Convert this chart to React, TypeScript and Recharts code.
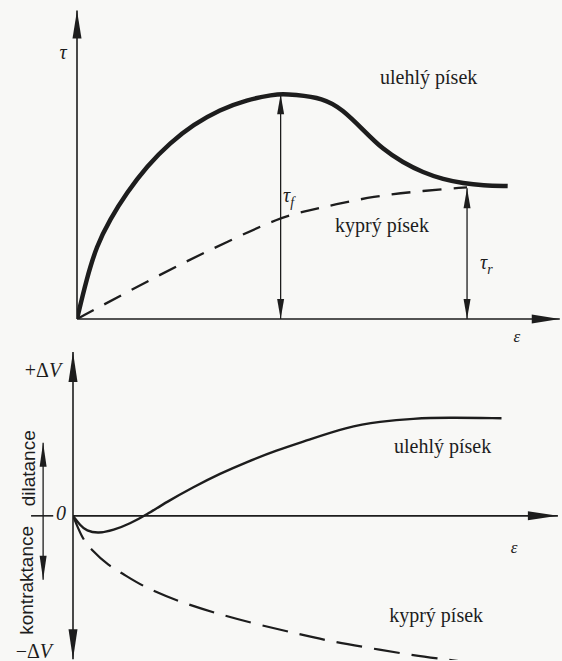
import React from 'react';
import { LineChart, Line, XAxis, YAxis, ReferenceLine, ReferenceDot } from 'recharts';

const INK = '#1d1d1d';
const SERIF = "'Liberation Serif', 'Times New Roman', serif";
const SANS = "'Liberation Sans', Arial, sans-serif";

// ---- top chart: shear stress tau vs strain eps ----
const topDenseEps = [0, 2.0, 4.1, 6.9, 10.4, 14.6, 19.5, 24.3, 29.9, 35.5, 41.1, 43.1, 45.2, 51.5, 55.6, 59.8, 64.0, 68.2, 72.4, 76.6, 80.8, 84.9, 90.1];
const topDenseTau = [0, 13.0, 23.8, 32.5, 41.1, 49.8, 57.4, 63.3, 68.2, 71.4, 73.1, 73.3, 73.1, 72.0, 68.2, 61.7, 55.2, 51.0, 47.7, 45.5, 44.2, 43.5, 43.3];
const topLooseEps = [0, 10.4, 20.9, 31.6, 42.5, 48.1, 54.0, 61.9, 71.1, 81.6];
const topLooseTau = [0, 8.7, 17.3, 25.3, 33.1, 35.2, 37.3, 39.9, 41.6, 42.9];
const tauPeakEps = 42.6;
const tauPeak = 73.2;
const tauResEps = 81.6;
const tauRes = 42.6;

// ---- bottom chart: volume change dV vs strain eps ----
const botDenseEps = [0, 1.5, 2.8, 5.2, 8.4, 11.8, 15.3, 19.4, 25.0, 30.5, 36.0, 42.2, 48.5, 56.8, 63.7, 70.6, 77.5, 88.9];
const botDenseDV = [0, -2.9, -4.6, -5.4, -4.4, -2.4, 0.4, 4.2, 8.8, 12.9, 16.4, 20.0, 23.0, 27.1, 28.8, 29.7, 30.0, 29.8];
const botLooseEps = [0, 1.8, 3.5, 7.7, 9.8, 14.6, 22.2, 29.8, 38.1, 46.4, 54.0, 62.3, 70.6, 78.9, 86.5];
const botLooseDV = [0, -6.5, -10.0, -15.6, -17.1, -21.7, -26.3, -29.8, -33.1, -35.9, -38.5, -40.5, -42.6, -44.1, -45.6];

const labelDense = 'ulehlý písek';
const labelLoose = 'kyprý písek';
const labelDil = 'dilatance';
const labelCon = 'kontraktance';

const zip = (xs: number[], ys: number[]) => xs.map((x, i) => ({ x, y: ys[i] }));
const topDense = zip(topDenseEps, topDenseTau);
const topLoose = zip(topLooseEps, topLooseTau);
const botDense = zip(botDenseEps, botDenseDV);
const botLoose = zip(botLooseEps, botLooseDV);

function headPts(tx: number, ty: number, fx: number, fy: number, len: number, half: number) {
  const dx = tx - fx;
  const dy = ty - fy;
  const d = Math.hypot(dx, dy) || 1;
  const ux = dx / d;
  const uy = dy / d;
  const bx = tx - ux * len;
  const by = ty - uy * len;
  const px = -uy * half;
  const py = ux * half;
  return `${tx},${ty} ${bx + px},${by + py} ${bx - px},${by - py}`;
}

const arrow = (opts: { start?: boolean; end?: boolean; len?: number; half?: number; w?: number }) => (p: any) => {
  const { x1, y1, x2, y2 } = p;
  const len = opts.len ?? 24;
  const half = opts.half ?? 4;
  return (
    <g>
      <line x1={x1} y1={y1} x2={x2} y2={y2} stroke={INK} strokeWidth={opts.w ?? 1.6} />
      {opts.end && <polygon points={headPts(x2, y2, x1, y1, len, half)} fill={INK} />}
      {opts.start && <polygon points={headPts(x1, y1, x2, y2, len, half)} fill={INK} />}
    </g>
  );
};

type TxtOpts = { family?: string; size?: number; italic?: boolean; anchor?: string; angle?: number };
const txt = (content: React.ReactNode, o: TxtOpts = {}) => (p: any) => (
  <text
    x={p.cx}
    y={p.cy}
    fill={INK}
    textAnchor={o.anchor ?? 'start'}
    fontFamily={o.family ?? SERIF}
    style={{ fontFamily: o.family ?? SERIF, fontSize: o.size ?? 20, fontStyle: o.italic ? 'italic' : 'normal' }}
    transform={o.angle ? `rotate(${o.angle} ${p.cx} ${p.cy})` : undefined}
  >
    {content}
  </text>
);

export default function App() {
  return (
    <div style={{ position: 'absolute', left: 0, top: 0, width: 562, height: 661, background: '#f8f8f6', overflow: 'hidden' }}>
      <div style={{ position: 'absolute', left: 0, top: 0 }}>
        <LineChart width={562} height={360} margin={{ top: 12, right: 7, bottom: 41, left: 77 }}>
          <XAxis type="number" dataKey="x" domain={[0, 100]} hide allowDataOverflow />
          <YAxis type="number" dataKey="y" domain={[0, 100]} hide allowDataOverflow />
          <ReferenceLine ifOverflow="visible" segment={[{ x: 0, y: 0 }, { x: 0, y: 100.5 }]} shape={arrow({ end: true, len: 28, half: 4.5 })} />
          <ReferenceLine ifOverflow="visible" segment={[{ x: 0, y: 0 }, { x: 101, y: 0 }]} shape={arrow({ end: true, len: 28, half: 4.5 })} />
          <ReferenceLine ifOverflow="visible" segment={[{ x: tauPeakEps, y: 0 }, { x: tauPeakEps, y: tauPeak }]} shape={arrow({ start: true, end: true, len: 20, half: 3.5, w: 1.3 })} />
          <ReferenceLine ifOverflow="visible" segment={[{ x: tauResEps, y: 0 }, { x: tauResEps, y: tauRes }]} shape={arrow({ start: true, end: true, len: 20, half: 3.5, w: 1.3 })} />
          <Line data={topLoose} dataKey="y" type="basis" stroke={INK} strokeWidth={2.3} strokeDasharray="19 12" dot={false} activeDot={false} isAnimationActive={false} />
          <Line data={topDense} dataKey="y" type="basis" stroke={INK} strokeWidth={4.5} dot={false} activeDot={false} isAnimationActive={false} />
          <ReferenceDot ifOverflow="visible" x={-2.9} y={84.7} shape={txt('τ', { italic: true, anchor: 'middle' })} />
          <ReferenceDot ifOverflow="visible" x={92} y={-7.5} shape={txt('ε', { italic: true, anchor: 'middle', size: 17 })} />
          <ReferenceDot ifOverflow="visible" x={63.4} y={76.5} shape={txt(labelDense)} />
          <ReferenceDot ifOverflow="visible" x={54.0} y={28.2} shape={txt(labelLoose)} />
          <ReferenceDot
            ifOverflow="visible"
            x={43.1}
            y={38}
            shape={txt(
              <>
                <tspan>τ</tspan>
                <tspan fontSize={14} dy={5}>f</tspan>
              </>,
              { italic: true }
            )}
          />
          <ReferenceDot
            ifOverflow="visible"
            x={84.3}
            y={16.2}
            shape={txt(
              <>
                <tspan>τ</tspan>
                <tspan fontSize={14} dy={5}>r</tspan>
              </>,
              { italic: true }
            )}
          />
        </LineChart>
      </div>
      <div style={{ position: 'absolute', left: 0, top: 340 }}>
        <LineChart width={562} height={321} margin={{ top: 12, right: 7, bottom: 1, left: 73 }}>
          <XAxis type="number" dataKey="x" domain={[0, 100]} hide allowDataOverflow />
          <YAxis type="number" dataKey="y" domain={[-44, 50]} hide allowDataOverflow />
          <ReferenceLine ifOverflow="visible" segment={[{ x: 0, y: -43.8 }, { x: 0, y: 50 }]} shape={arrow({ start: true, end: true, len: 30, half: 4.5 })} />
          <ReferenceLine ifOverflow="visible" segment={[{ x: 0, y: 0 }, { x: 100.6, y: 0 }]} shape={arrow({ end: true, len: 30, half: 4.5 })} />
          <ReferenceLine ifOverflow="visible" segment={[{ x: -8.7, y: 0 }, { x: -4.1, y: 0 }]} shape={arrow({ w: 1.6 })} />
          <ReferenceLine ifOverflow="visible" segment={[{ x: -6.2, y: -19.5 }, { x: -6.2, y: 22.3 }]} shape={arrow({ start: true, end: true, len: 24, half: 3.5, w: 1.3 })} />
          <Line data={botLoose} dataKey="y" type="basis" stroke={INK} strokeWidth={2.2} strokeDasharray="26 12" dot={false} activeDot={false} isAnimationActive={false} />
          <Line data={botDense} dataKey="y" type="basis" stroke={INK} strokeWidth={2.4} dot={false} activeDot={false} isAnimationActive={false} />
          <ReferenceDot
            ifOverflow="visible"
            x={-10}
            y={42.4}
            shape={txt(
              <>
                <tspan>+Δ</tspan>
                <tspan fontStyle="italic">V</tspan>
              </>
            )}
          />
          <ReferenceDot
            ifOverflow="visible"
            x={-11.9}
            y={-43.3}
            shape={txt(
              <>
                <tspan>−Δ</tspan>
                <tspan fontStyle="italic">V</tspan>
              </>
            )}
          />
          <ReferenceDot ifOverflow="visible" x={-2.5} y={-1.4} shape={txt('0', { italic: true, anchor: 'middle' })} />
          <ReferenceDot ifOverflow="visible" x={91.5} y={-11.3} shape={txt('ε', { italic: true, anchor: 'middle', size: 17 })} />
          <ReferenceDot ifOverflow="visible" x={66.6} y={19.2} shape={txt(labelDense)} />
          <ReferenceDot ifOverflow="visible" x={65.6} y={-32.3} shape={txt(labelLoose)} />
          <ReferenceDot ifOverflow="visible" x={-7.9} y={14.5} shape={txt(labelDil, { family: SANS, size: 19, anchor: 'middle', angle: -90 })} />
          <ReferenceDot ifOverflow="visible" x={-8.3} y={-19.7} shape={txt(labelCon, { family: SANS, size: 19, anchor: 'middle', angle: -90 })} />
        </LineChart>
      </div>
    </div>
  );
}
